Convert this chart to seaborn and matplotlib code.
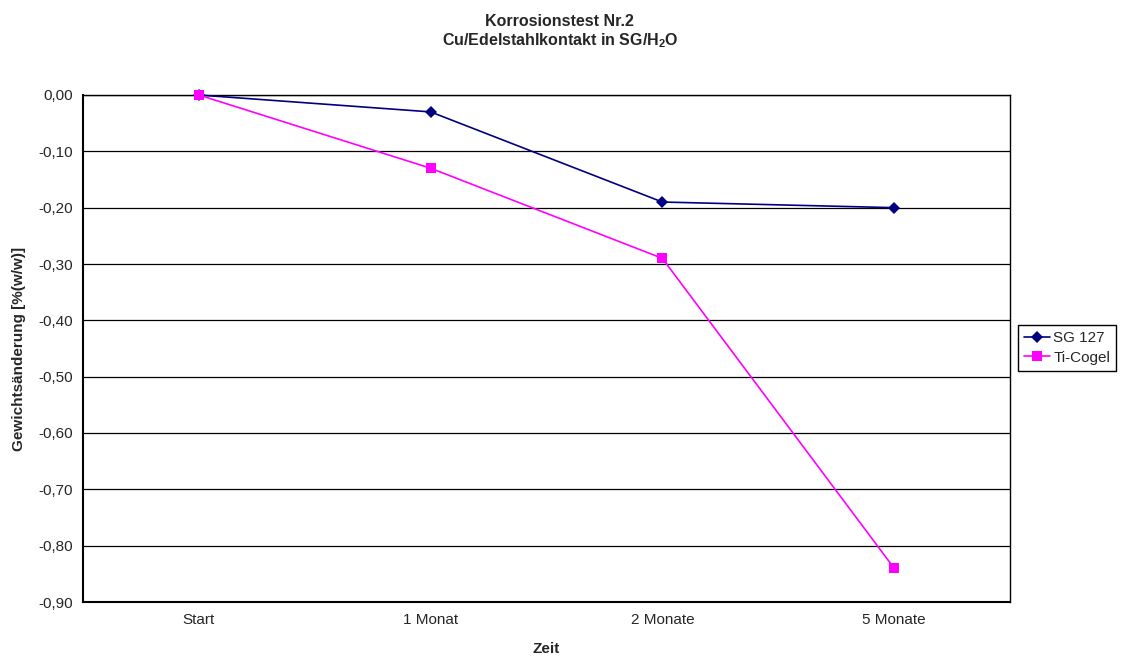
import matplotlib
matplotlib.use("Agg")
import matplotlib.pyplot as plt
import matplotlib.ticker as mticker
import seaborn as sns
import pandas as pd

categories = ["Start", "1 Monat", "2 Monate", "5 Monate"]
sg127 = [0.00, -0.03, -0.19, -0.20]
ticogel = [0.00, -0.13, -0.29, -0.84]
series_names = ["SG 127", "Ti-Cogel"]
y_ticks = [0.0, -0.1, -0.2, -0.3, -0.4, -0.5, -0.6, -0.7, -0.8, -0.9]

sns.set_theme(style="white")
plt.rcParams["font.family"] = ["Liberation Sans", "DejaVu Sans"]
plt.rcParams["mathtext.fontset"] = "custom"
plt.rcParams["mathtext.bf"] = "Liberation Sans:bold"
plt.rcParams["mathtext.rm"] = "Liberation Sans:bold"

df = pd.DataFrame({
    "Zeit": categories * 2,
    "pos": list(range(len(categories))) * 2,
    "val": sg127 + ticogel,
    "Serie": [series_names[0]] * 4 + [series_names[1]] * 4,
})

fig = plt.figure(figsize=(11.31, 6.62), dpi=100)
ax = fig.add_axes([83 / 1131, 1 - 602 / 662, (1010 - 83) / 1131, (602 - 95) / 662])

sns.lineplot(data=df, x="pos", y="val", hue="Serie", style="Serie",
             palette={"SG 127": "#000080", "Ti-Cogel": "#FF00FF"},
             markers={"SG 127": "D", "Ti-Cogel": "s"}, dashes=False,
             markersize=6.5, linewidth=1.2, markeredgewidth=0, sort=False,
             ax=ax, legend=True)
for ln in ax.get_lines():
    ln.set_clip_on(False)
    ln.set_zorder(5)

ax.set_xlim(-0.5, 3.5)
ax.set_ylim(-0.9, 0.0)
ax.set_yticks(y_ticks)
ax.yaxis.set_major_formatter(mticker.FuncFormatter(lambda v, p: f"{v:.2f}".replace(".", ",").replace("-0,00", "0,00")))
ax.set_xticks([-0.5, 0.5, 1.5, 2.5, 3.5])
ax.set_xticklabels([])
ax.set_xticks(range(len(categories)), minor=True)
ax.set_xticklabels(categories, minor=True)
ax.tick_params(axis="x", which="minor", length=0, labelsize=11, pad=8)
ax.tick_params(axis="x", which="major", length=5, width=1, color="black", direction="out")
ax.tick_params(axis="y", length=5, width=1, color="black", direction="out", labelsize=11, pad=2)
ax.grid(axis="y", color="black", linewidth=0.9)
ax.set_axisbelow(True)
for s in ax.spines.values():
    s.set_color("black")
    s.set_linewidth(1.0)
ax.spines["left"].set_linewidth(1.5)
ax.spines["bottom"].set_linewidth(1.5)

ax.set_xlabel("Zeit", fontsize=11, fontweight="bold", labelpad=11)
ax.set_ylabel("Gewichtsänderung [%(w/w)]", fontsize=11, fontweight="bold", labelpad=9)

handles, labels = ax.get_legend_handles_labels()
ax.get_legend().remove()
fig.legend(handles, labels, loc="center left", bbox_to_anchor=(1018 / 1131, 1 - 348 / 662),
           frameon=True, fancybox=False, edgecolor="black", framealpha=1,
           fontsize=11, handlelength=1.7, handletextpad=0.2, borderpad=0.4,
           labelspacing=0.35, borderaxespad=0)

fig.text(0.495, 1 - 22 / 662, "Korrosionstest Nr.2", ha="center", va="center",
         fontsize=11.5, fontweight="bold")
fig.text(0.495, 1 - 41 / 662, r"Cu/Edelstahlkontakt in SG/H$_\mathbf{2}$O", ha="center", va="center",
         fontsize=11.5, fontweight="bold")

fig.savefig("out.png", dpi=100)
